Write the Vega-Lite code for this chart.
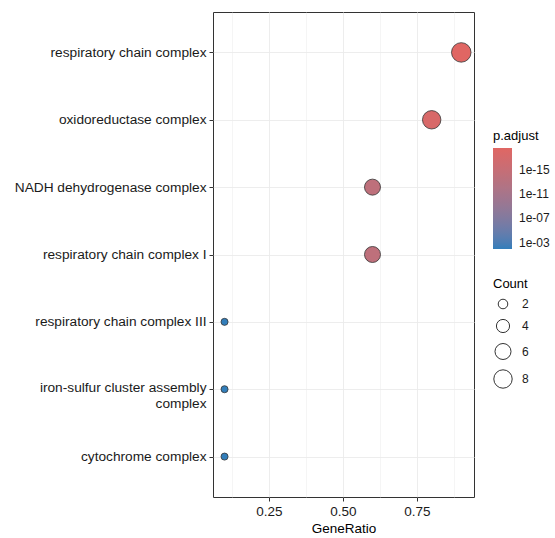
{
  "$schema": "https://vega.github.io/schema/vega-lite/v6.json",
  "width": 261,
  "height": 485,
  "autosize": "none",
  "padding": {"left": 213, "top": 12, "right": 81, "bottom": 41},
  "background": "white",
  "config": {
    "font": "Liberation Sans",
    "view": {"stroke": "#333333", "strokeWidth": 1},
    "axis": {"domain": false, "gridColor": "#ebebeb", "gridWidth": 0.8, "tickColor": "#333333", "tickSize": 4, "labelColor": "#1a1a1a", "titleColor": "#000000", "titleFontWeight": "normal"},
    "legend": {"titleFontWeight": "normal", "titleColor": "#000000", "labelColor": "#1a1a1a"}
  },
  "data": {
    "values": [
      {"Description": "respiratory chain complex", "GeneRatio": 0.9, "Count": 9, "p.adjust": 2e-19},
      {"Description": "oxidoreductase complex", "GeneRatio": 0.8, "Count": 8, "p.adjust": 3e-18},
      {"Description": "NADH dehydrogenase complex", "GeneRatio": 0.6, "Count": 6, "p.adjust": 1e-14},
      {"Description": "respiratory chain complex I", "GeneRatio": 0.6, "Count": 6, "p.adjust": 1e-14},
      {"Description": "respiratory chain complex III", "GeneRatio": 0.1, "Count": 1, "p.adjust": 0.012},
      {"Description": "iron-sulfur cluster assembly complex", "GeneRatio": 0.1, "Count": 1, "p.adjust": 0.012},
      {"Description": "cytochrome complex", "GeneRatio": 0.1, "Count": 1, "p.adjust": 0.012}
    ]
  },
  "mark": {"type": "point", "shape": "circle", "filled": true, "opacity": 1, "stroke": "#333333", "strokeWidth": 0.8},
  "encoding": {
    "x": {
      "field": "GeneRatio", "type": "quantitative",
      "scale": {"domain": [0.061, 0.943], "nice": false, "zero": false},
      "axis": {
        "values": [0.125, 0.25, 0.375, 0.5, 0.625, 0.75, 0.875],
        "labelExpr": "(datum.value * 4) % 1 == 0 ? format(datum.value, '.2f') : ''",
        "tickOpacity": {"condition": {"test": "(datum.value * 4) % 1 != 0", "value": 0}, "value": 1},
        "gridWidth": {"condition": {"test": "(datum.value * 4) % 1 != 0", "value": 0.5}, "value": 0.9},
        "labelFontSize": 13.5, "labelPadding": 3,
        "title": "GeneRatio", "titleFontSize": 13.5, "titlePadding": 4
      }
    },
    "y": {
      "field": "Description", "type": "nominal",
      "sort": null,
      "scale": {"type": "point", "padding": 0.6},
      "axis": {
        "title": null, "grid": true, "gridWidth": 0.9,
        "labelFontSize": 13.7, "labelPadding": 3, "labelLimit": 300,
        "labelExpr": "datum.label == 'iron-sulfur cluster assembly complex' ? ['iron-sulfur cluster assembly', 'complex'] : datum.label",
        "labelOffset": {"condition": {"test": "datum.value == 'iron-sulfur cluster assembly complex'", "value": -2}, "value": 0},
        "labelLineHeight": 16
      }
    },
    "color": {
      "field": "p\\.adjust", "type": "quantitative",
      "scale": {"type": "log", "domain": [0.012, 2e-19], "range": ["#327eba", "#e06663"], "interpolate": "lab"},
      "legend": {
        "title": "p.adjust", "titleFontSize": 13, "labelFontSize": 12,
        "orient": "none", "legendX": 280, "legendY": 118,
        "gradientLength": 101, "gradientThickness": 19,
        "values": [1e-15, 1e-11, 1e-7, 1e-3],
        "labelExpr": "datum.value < 1e-13 ? '1e-15' : datum.value < 1e-9 ? '1e-11' : datum.value < 1e-5 ? '1e-07' : '1e-03'",
        "labelOffset": 7,
        "gradientStrokeWidth": 0,
        "titlePadding": 5
      }
    },
    "size": {
      "field": "Count", "type": "quantitative",
      "scale": {"domain": [1, 9], "range": [50, 380]},
      "legend": {
        "title": "Count", "titleFontSize": 13, "labelFontSize": 12,
        "orient": "none", "legendX": 280, "legendY": 266,
        "values": [2, 4, 6, 8],
        "symbolFillColor": "transparent", "symbolStrokeColor": "#000000", "symbolStrokeWidth": 0.8,
        "symbolType": "circle", "rowPadding": 6, "labelOffset": 9, "titlePadding": 7
      }
    }
  }
}
